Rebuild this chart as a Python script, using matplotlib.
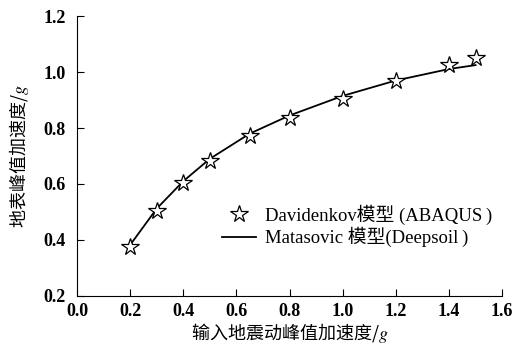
import matplotlib
matplotlib.use("Agg")
import matplotlib.pyplot as plt

plt.rcParams['font.family'] = ['Liberation Serif', 'Noto Sans CJK SC']
plt.rcParams['mathtext.fontset'] = 'stix'

# data
pga_in = [0.2, 0.3, 0.4, 0.5, 0.65, 0.8, 1.0, 1.2, 1.4, 1.5]
davidenkov = [0.374, 0.505, 0.602, 0.681, 0.771, 0.835, 0.905, 0.969, 1.027, 1.051]
matasovic = [0.382, 0.512, 0.610, 0.690, 0.780, 0.845, 0.915, 0.970, 1.011, 1.025]
xticks = [0.0, 0.2, 0.4, 0.6, 0.8, 1.0, 1.2, 1.4, 1.6]
yticks = [0.2, 0.4, 0.6, 0.8, 1.0, 1.2]

fig = plt.figure(figsize=(5.15, 3.51), dpi=100)
ax = fig.add_axes([0.1495, 0.157, 0.8255, 0.797])

ax.plot(pga_in, davidenkov, linestyle='none', marker='*', markersize=13,
        markerfacecolor='white', markeredgecolor='black', markeredgewidth=0.9,
        label='Davidenkov模型 (ABAQUS\u2009)', zorder=3)
ax.plot(pga_in, matasovic, color='black', linewidth=1.3,
        label='Matasovic 模型(Deepsoil\u2009)', zorder=2)

ax.set_xlim(0, 1.6)
ax.set_ylim(0.2, 1.2)
ax.set_xticks(xticks)
ax.set_yticks(yticks)
ax.set_xticklabels(['%.1f' % v for v in xticks])
ax.set_yticklabels(['%.1f' % v for v in yticks])
ax.tick_params(direction='in', length=5, width=0.8, labelsize=13)
ax.tick_params(axis='x', pad=5)
ax.tick_params(axis='y', pad=8)
for lab in ax.get_xticklabels() + ax.get_yticklabels():
    lab.set_fontweight('bold')
ax.spines['top'].set_visible(False)
ax.spines['right'].set_visible(False)
for s in ['left', 'bottom']:
    ax.spines[s].set_linewidth(0.8)

cjk = ['Noto Sans CJK SC', 'DejaVu Sans']
ax.set_xlabel('输入地震动峰值加速度/$g$', family=cjk, fontsize=13, labelpad=1)
ax.set_ylabel('地表峰值加速度/$g$', family=cjk, fontsize=13, labelpad=9)

ax.legend(loc='center left', bbox_to_anchor=(0.341, 0.25), frameon=False,
          fontsize=13.5, borderpad=0, borderaxespad=0, handlelength=1.8,
          handletextpad=0.5, labelspacing=0.1)

fig.savefig('out.png', dpi=100)
